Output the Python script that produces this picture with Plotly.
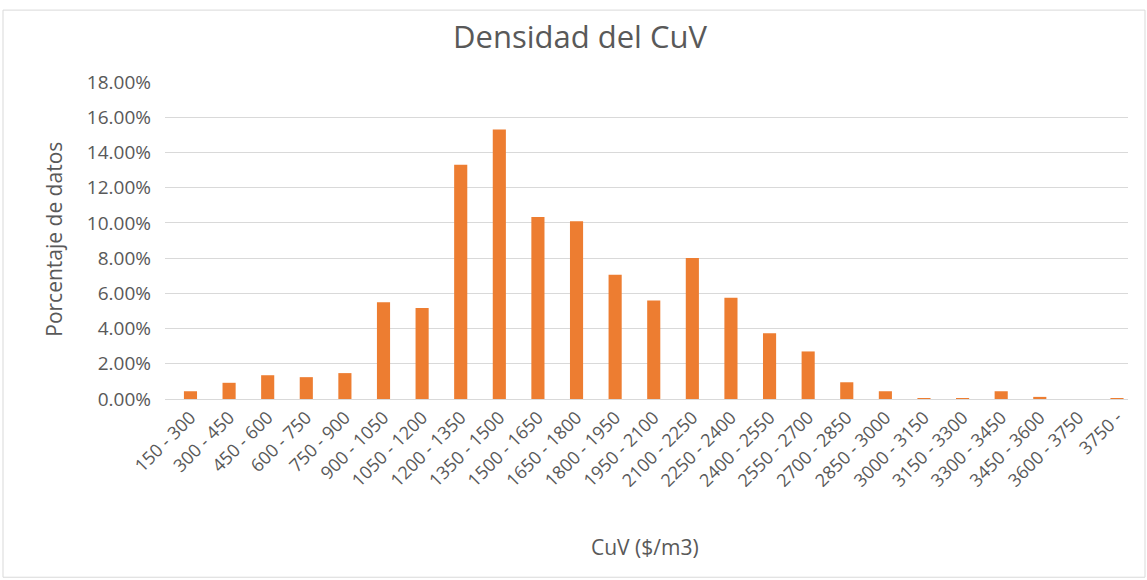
import plotly.graph_objects as go

categories = ["150 - 300", "300 - 450", "450 - 600", "600 - 750", "750 - 900",
              "900 - 1050", "1050 - 1200", "1200 - 1350", "1350 - 1500", "1500 - 1650",
              "1650 - 1800", "1800 - 1950", "1950 - 2100", "2100 - 2250", "2250 - 2400",
              "2400 - 2550", "2550 - 2700", "2700 - 2850", "2850 - 3000", "3000 - 3150",
              "3150 - 3300", "3300 - 3450", "3450 - 3600", "3600 - 3750", "3750 -"]
percent = [0.44, 0.92, 1.35, 1.24, 1.47, 5.50, 5.17, 13.30, 15.30, 10.34,
           10.10, 7.06, 5.60, 8.00, 5.75, 3.74, 2.70, 0.95, 0.44, 0.05,
           0.05, 0.44, 0.12, 0.0, 0.05]
values = [p / 100 for p in percent]

FONT = "'Open Sans', Lato, sans-serif"
GRAY = "#595959"

fig = go.Figure(go.Bar(x=categories, y=values, marker_color="#ED7D31",
                       marker_line_width=0, width=0.34))

W, H = 1147, 580
L, R, T, B = 165, 1128, 82, 399.5
pw, ph = R - L, B - T

fig.update_layout(
    width=W, height=H,
    margin=dict(l=L, r=W - R, t=T, b=H - B, autoexpand=False),
    paper_bgcolor="white", plot_bgcolor="white",
    font=dict(family=FONT, color=GRAY, size=18),
    title=dict(text="Densidad del CuV", x=580 / W, xanchor="center",
               y=1 - 37 / H, yanchor="middle",
               font=dict(size=31, color=GRAY, family=FONT)),
    showlegend=False,
)
fig.update_yaxes(range=[0, 0.18], dtick=0.02, tickformat=".2%",
                 showgrid=True, gridcolor="#D9D9D9", gridwidth=1,
                 zeroline=False, showline=False, ticks="",
                 tickfont=dict(size=19, color=GRAY), ticklabelstandoff=13)
fig.update_xaxes(range=[-0.66, 24.285], tickangle=-45, showline=True,
                 linecolor="#D9D9D9", linewidth=1,
                 ticks="", tickfont=dict(size=18, color=GRAY))

fig.add_annotation(text="CuV ($/m3)", xref="paper", yref="paper",
                   x=(645 - L) / pw, y=(B - 548) / ph, showarrow=False,
                   xanchor="center", yanchor="middle",
                   font=dict(size=21, color=GRAY, family=FONT))
fig.add_annotation(text="Porcentaje de datos", xref="paper", yref="paper",
                   x=(54 - L) / pw, y=(B - 240) / ph, showarrow=False,
                   textangle=-90, xanchor="center", yanchor="middle",
                   font=dict(size=21, color=GRAY, family=FONT))
fig.add_shape(type="rect", xref="paper", yref="paper",
              x0=(3 - L) / pw, x1=(1145 - L) / pw,
              y0=(B - 578) / ph, y1=1 + (T - 10) / ph,
              line=dict(color="#D9D9D9", width=1), fillcolor="rgba(0,0,0,0)",
              layer="below")

fig.write_html("out.html", config={"displayModeBar": False},
               post_script="document.body.style.margin='0';")
